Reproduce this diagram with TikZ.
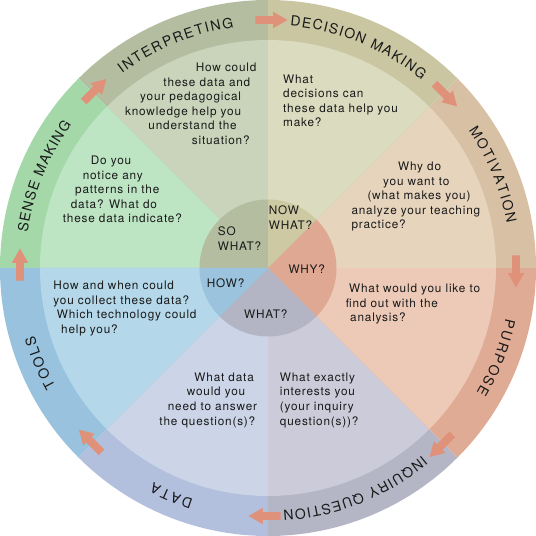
\documentclass[tikz,border=0pt]{standalone}
\usepackage{fontspec}
\usetikzlibrary{shapes.arrows}
\usetikzlibrary{decorations.text}
\newfontfamily\qfont[LetterSpace=7]{TeX Gyre Heros}
\newfontfamily\ringfont{TeX Gyre Heros}

\definecolor{interpR}{HTML}{B4BDA0}
\definecolor{interpS}{HTML}{CAD4BB}
\definecolor{senseR}{HTML}{A4D8A9}
\definecolor{senseS}{HTML}{BDE5C4}
\definecolor{toolsR}{HTML}{98C2DD}
\definecolor{toolsS}{HTML}{B4D7E9}
\definecolor{dataR}{HTML}{B2C0DE}
\definecolor{dataS}{HTML}{CBD5E7}
\definecolor{inqR}{HTML}{B5B6C5}
\definecolor{inqS}{HTML}{CCCBD9}
\definecolor{purpR}{HTML}{DFAB95}
\definecolor{purpS}{HTML}{EDCAB7}
\definecolor{motR}{HTML}{D8C0A5}
\definecolor{motS}{HTML}{E6D4BD}
\definecolor{decR}{HTML}{C9C6A1}
\definecolor{decS}{HTML}{DADBBF}
\definecolor{sowhatC}{HTML}{B4BDA0}
\definecolor{nowwhatC}{HTML}{CDC9A3}
\definecolor{whyC}{HTML}{DEA892}
\definecolor{whatC}{HTML}{B4B5C4}
\definecolor{howC}{HTML}{9BC3DD}
\definecolor{arrowC}{HTML}{E0917A}

\begin{document}
\begin{tikzpicture}[x=1bp,y=1bp,
         qtext/.style = {anchor=base west, inner sep=0pt, text=black!90,
            font=\qfont\fontsize{11.8}{14}\selectfont},
         cycarrow/.style = {single arrow, fill=arrowC, draw=none, inner sep=3.75bp,
            outer sep=0pt, minimum height=32bp, single arrow head extend=4.25bp,
            single arrow tip angle=60},
         ringlabel/.style = {decorate, decoration={text along path,
            text align={fit to path}, text color=black!90}}
]
      \useasboundingbox (-268,-268) rectangle (268,268);
      \coordinate (hub) at (0,0);

      % ring and question sectors
      \foreach \a/\rc/\sc in {90/interpR/interpS, 135/senseR/senseS, 180/toolsR/toolsS,
            225/dataR/dataS, 270/inqR/inqS, 315/purpR/purpS, 0/motR/motS, 45/decR/decS}{
         \fill[\rc] (hub) -- (\a:268) arc[start angle=\a, end angle=\a+45, radius=268] -- cycle;
         \fill[\sc] (hub) -- (\a:228) arc[start angle=\a, end angle=\a+45, radius=228] -- cycle;
      }

      % hub
      \fill[sowhatC] (hub) -- (90:68.5) arc[start angle=90, end angle=180, radius=68.5] -- cycle;
      \fill[nowwhatC] (hub) -- (45:68.5) arc[start angle=45, end angle=90, radius=68.5] -- cycle;
      \fill[whyC] (hub) -- (-45:68.5) arc[start angle=-45, end angle=45, radius=68.5] -- cycle;
      \fill[whatC] (hub) -- (225:68.5) arc[start angle=225, end angle=315, radius=68.5] -- cycle;
      \fill[howC] (hub) -- (180:68.5) arc[start angle=180, end angle=225, radius=68.5] -- cycle;

      % arrows between the stages
      \foreach \a [count=\k] in {90,45,0,-45,-90,-135,180,135}
         \node[cycarrow, rotate=\a-90] (arr\k) at (\a:248) {};

      % stage names
      \path[ringlabel, decoration={text={|\ringfont\fontsize{14}{14}\selectfont|INTERPRETING}}]
         (126.9:243) arc[start angle=126.9, end angle=98.1, radius=243];
      \path[ringlabel, decoration={text={|\ringfont\fontsize{14}{14}\selectfont|DECISION MAKING}}]
         (84.8:243) arc[start angle=84.8, end angle=50.8, radius=243];
      \path[ringlabel, decoration={text={|\ringfont\fontsize{14}{14}\selectfont|MOTIVATION}}]
         (34.4:243) arc[start angle=34.4, end angle=10.6, radius=243];
      \path[ringlabel, decoration={text={|\ringfont\fontsize{14}{14}\selectfont|PURPOSE}}]
         (-12.1:243) arc[start angle=-12.1, end angle=-30.9, radius=243];
      \path[ringlabel, decoration={text={|\ringfont\fontsize{14}{14}\selectfont|INQUIRY QUESTION}}]
         (-50.6:243) arc[start angle=-50.6, end angle=-86.4, radius=243];
      \path[ringlabel, decoration={text={|\ringfont\fontsize{14}{14}\selectfont|DATA}}]
         (-107.9:243) arc[start angle=-107.9, end angle=-118.1, radius=243];
      \path[ringlabel, decoration={text={|\ringfont\fontsize{14}{14}\selectfont|TOOLS}}]
         (209.1:243) arc[start angle=209.1, end angle=196.1, radius=243];
      \path[ringlabel, decoration={text={|\ringfont\fontsize{14}{14}\selectfont|SENSE MAKING}}]
         (171.7:243) arc[start angle=171.7, end angle=143.9, radius=243];

      % questions
      \foreach \t/\x [count=\i] in {How could/-72.3, these data and/-104.7,
            your pedagogical/-128, knowledge help you/-143, understand the/-119.7, situation?/-76.3}
         \node[qtext] (interp\i) at (\x,{210.8-14.5*\i}) {\t};
      \foreach \t/\x [count=\i] in {Do you/-177.3, notice any/-185.3, patterns in the/-193,
            data? What do/-197.3, these data indicate?/-205.3}
         \node[qtext] (sense\i) at (\x,{117.5-14.5*\i}) {\t};
      \foreach \t [count=\i] in {What, decisions can, these data help you, make?}
         \node[qtext] (decide\i) at (15,{199.2-14.5*\i}) {\t};
      \foreach \t/\x [count=\i] in {Why do/130, you want to/115, {(what makes you)}/99.3,
            analyze your teaching/83.3, practice?/83.3}
         \node[qtext] (motiv\i) at (\x,{111.8-14.5*\i}) {\t};
      \foreach \t/\x [count=\i] in {What would you like to/81, find out with the/77.7, analysis?/82}
         \node[qtext] (purp\i) at (\x,{-10.5-14.5*\i}) {\t};
      \foreach \t [count=\i] in {What exactly, interests you, {(your inquiry}, question(s))?}
         \node[qtext] (inq\i) at (11.7,{-98.6-14.6*\i}) {\t};
      \foreach \t/\x [count=\i] in {What data/-73.7, would you/-81.3, need to answer/-100.3,
            the question(s)?/-108.7}
         \node[qtext] (data\i) at (\x,{-98.6-14.6*\i}) {\t};
      \foreach \t/\x [count=\i] in {How and when could/-214.7, you collect these data?/-214.7,
            Which technology could/-211.3, help you?/-207}
         \node[qtext] (tools\i) at (\x,{-7.2-14.5*\i}) {\t};

      % hub labels
      \node[qtext] (so1) at (-50.3,32) {SO};
      \node[qtext] (so2) at (-50.3,17.3) {WHAT?};
      \node[qtext] (now1) at (0.7,53) {NOW};
      \node[qtext] (now2) at (0.7,38) {WHAT?};
      \node[qtext] (why) at (20.3,-5.3) {WHY?};
      \node[qtext] (how) at (-61.3,-19.3) {HOW?};
      \node[qtext] (what) at (-24,-50.3) {WHAT?};
\end{tikzpicture}
\end{document}
